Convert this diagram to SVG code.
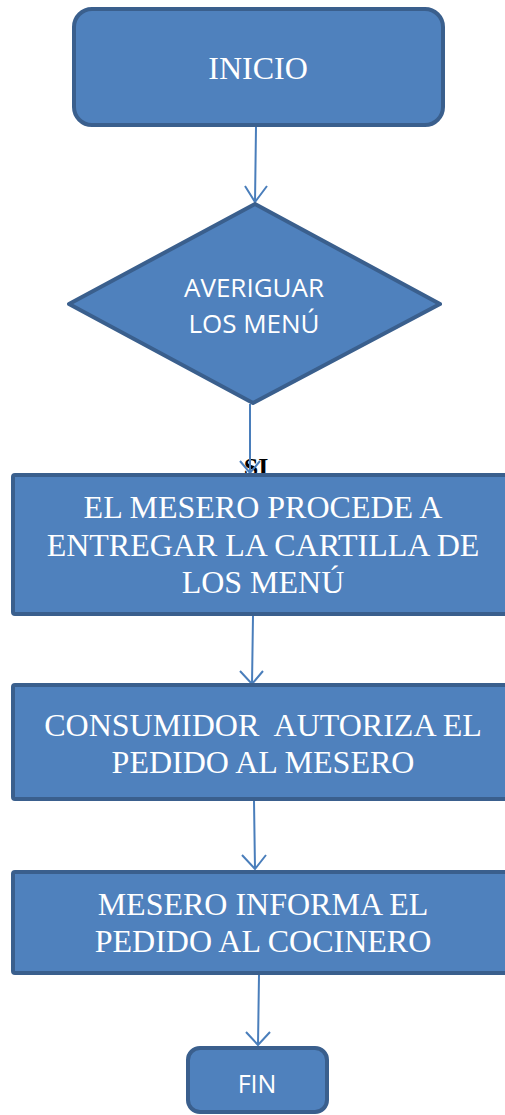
<svg xmlns="http://www.w3.org/2000/svg" width="505" height="1115" viewBox="0 0 505 1115">
<style>
.shape{fill:#4f81bd;stroke:#3a5f8d;stroke-width:4;stroke-linejoin:round}
.conn{fill:none;stroke:#4a7ebb;stroke-width:2}
.serif{font-family:"Liberation Serif","Times New Roman",serif;font-size:32px;fill:#ffffff;text-anchor:middle}
.sans{font-family:"Open Sans","Liberation Sans",sans-serif;font-size:26px;fill:#ffffff;text-anchor:middle}
.lbl{font-family:"Liberation Serif","Times New Roman",serif;font-size:26px;font-weight:bold;fill:#000000;text-anchor:middle}
</style>
<rect width="505" height="1115" fill="#ffffff"/>
<text class="lbl" x="256" y="476">SI</text>
<g id="connectors">
<path class="conn" d="M256,127 L255,202 M245,186 L255,202 L267,186"/>
<path class="conn" d="M250,404 L250,473 M240,461 L250,473 L260,461"/>
<path class="conn" d="M253,616 L252,684 M240,671 L252,684 L263,671"/>
<path class="conn" d="M254,801 L255,869 M242,855 L255,869 L266,855"/>
<path class="conn" d="M259,975 L258,1045 M246,1032 L258,1045 L270,1032"/>
</g>
<g id="inicio">
<rect class="shape" x="74" y="9" width="369" height="116" rx="18"/>
<text class="serif" x="258" y="79">INICIO</text>
</g>
<g id="averiguar">
<polygon class="shape" points="255,204 69,304 253,403 440,304"/>
<text class="sans" x="254" y="297">AVERIGUAR</text>
<text class="sans" x="254" y="333">LOS MENÚ</text>
</g>
<g id="entregar">
<rect class="shape" x="13" y="475" width="502" height="139" rx="2"/>
<text class="serif" x="263" y="518">EL MESERO PROCEDE A</text>
<text class="serif" x="263" y="556">ENTREGAR LA CARTILLA DE</text>
<text class="serif" x="263" y="593">LOS MENÚ</text>
</g>
<g id="autoriza">
<rect class="shape" x="13" y="685" width="502" height="114" rx="2"/>
<text class="serif" x="263" y="736" xml:space="preserve">CONSUMIDOR  AUTORIZA EL</text>
<text class="serif" x="263" y="773">PEDIDO AL MESERO</text>
</g>
<g id="informa">
<rect class="shape" x="13" y="872" width="502" height="101" rx="2"/>
<text class="serif" x="263" y="915">MESERO INFORMA EL</text>
<text class="serif" x="263" y="952">PEDIDO AL COCINERO</text>
</g>
<g id="fin">
<rect class="shape" x="188" y="1048" width="139" height="64" rx="12"/>
<text class="sans" x="257" y="1093" style="font-size:25px">FIN</text>
</g>
</svg>
